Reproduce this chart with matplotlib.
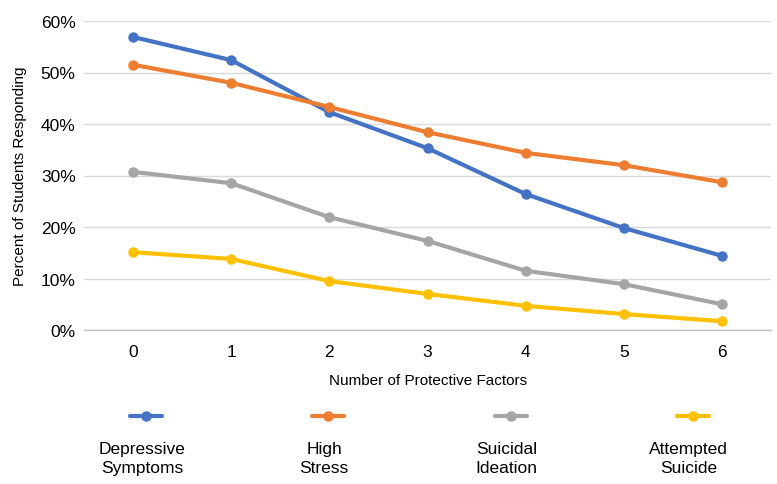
import matplotlib
matplotlib.use("Agg")
import matplotlib.pyplot as plt
from matplotlib.lines import Line2D
from matplotlib.ticker import PercentFormatter

plt.rcParams['font.family'] = ['Liberation Sans Narrow', 'Liberation Sans', 'DejaVu Sans']

# Data
factors = [0, 1, 2, 3, 4, 5, 6]
depressive = [56.9, 52.4, 42.3, 35.3, 26.4, 19.8, 14.4]
high_stress = [51.5, 48.0, 43.3, 38.4, 34.4, 32.0, 28.7]
suicidal = [30.7, 28.5, 21.9, 17.3, 11.5, 8.9, 5.0]
attempted = [15.1, 13.8, 9.5, 7.0, 4.7, 3.1, 1.7]

series = [
    ("Depressive\nSymptoms", depressive, "#4472C4"),
    ("High\nStress", high_stress, "#ED7D31"),
    ("Suicidal\nIdeation", suicidal, "#A5A5A5"),
    ("Attempted\nSuicide", attempted, "#FFC000"),
]

W, H = 777, 485
fig = plt.figure(figsize=(W / 100, H / 100), dpi=100)
ax = fig.add_axes([84 / W, 1 - 331 / H, (771 - 84) / W, (331 - 22) / H])

for name, vals, col in series:
    ax.plot(factors, vals, '-o', color=col, lw=3, ms=6.5, solid_capstyle='round', clip_on=False)

ax.set_xlim(-0.5, 6.5)
ax.set_ylim(0, 60)
ax.set_yticks([0, 10, 20, 30, 40, 50, 60])
ax.set_xticks(factors)
ax.yaxis.set_major_formatter(PercentFormatter(decimals=0))
ax.grid(axis='y', color='#D9D9D9', lw=1)
ax.set_axisbelow(True)
for s in ['top', 'right', 'left']:
    ax.spines[s].set_visible(False)
ax.spines['bottom'].set_color('#BFBFBF')
ax.spines['bottom'].set_linewidth(1)
ax.tick_params(length=0, labelsize=12.5, colors='#000000')
ax.tick_params(axis='x', pad=10)
ax.tick_params(axis='y', pad=6)

fig.text(428 / W, 1 - 381 / H, "Number of Protective Factors", ha='center', va='center', fontsize=11)
fig.text(20 / W, 1 - 176 / H, "Percent of Students Responding", ha='center', va='center',
         rotation=90, fontsize=11)

# legend below the axis, text under each key
for i, (name, vals, col) in enumerate(series):
    xc = 146 + i * 182.3
    fig.add_artist(Line2D([(xc - 16) / W, (xc + 16) / W], [1 - 417 / H, 1 - 417 / H],
                          color=col, lw=3, solid_capstyle='round', transform=fig.transFigure))
    fig.add_artist(Line2D([xc / W], [1 - 417 / H], marker='o', ms=6.5, color=col,
                          transform=fig.transFigure))
    fig.text((xc - 4) / W, 1 - 459 / H, name, ha='center', va='center', fontsize=12.5,
             linespacing=1.3)

fig.savefig('out.png', dpi=100)
